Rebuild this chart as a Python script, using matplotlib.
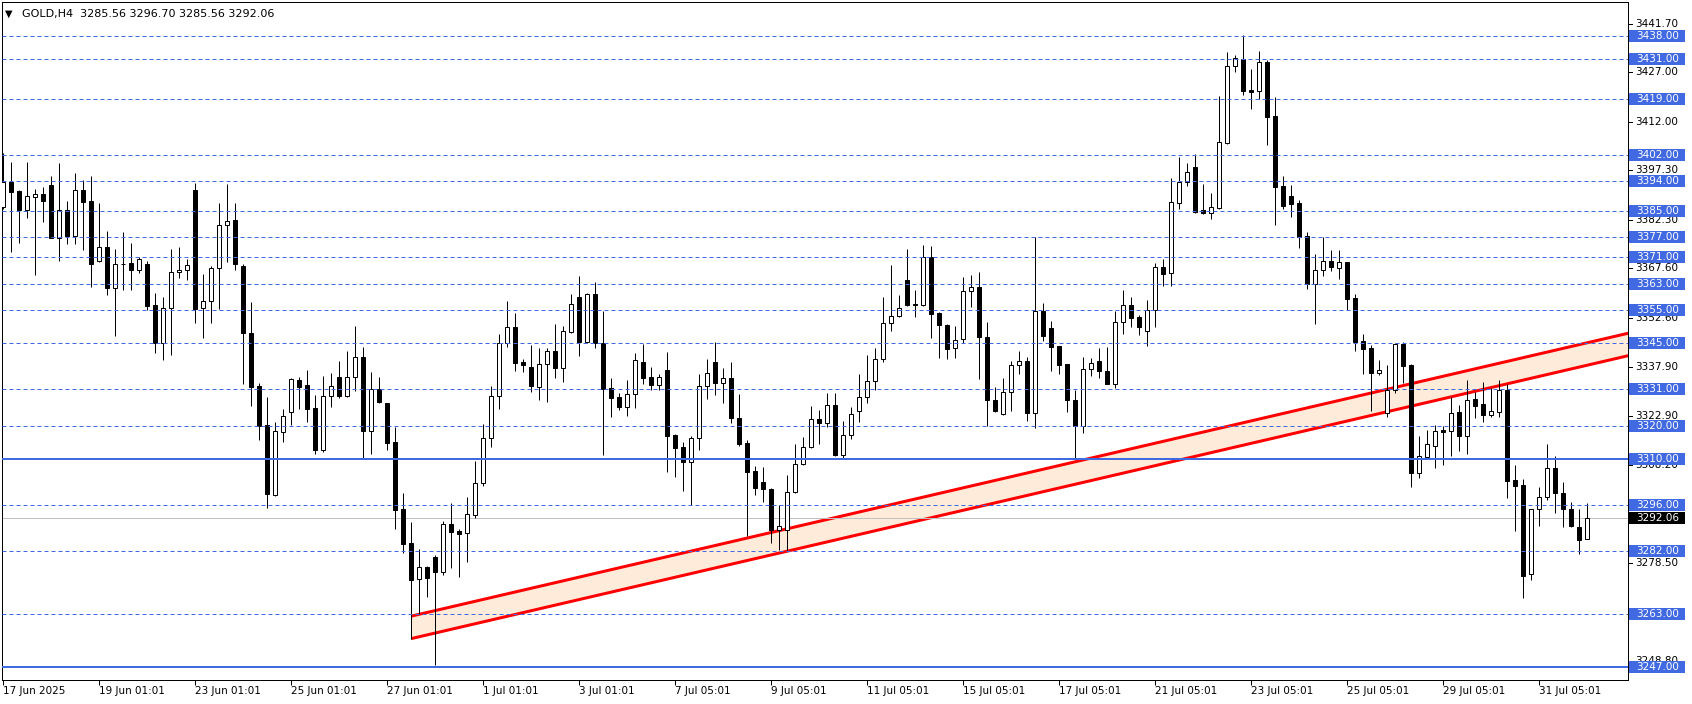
import matplotlib
matplotlib.use("Agg")
import matplotlib.pyplot as plt
import matplotlib.transforms as mtransforms
from matplotlib.patches import Rectangle

# ---------------- #
# -- DATA (H4) -- #
# ---------------- #

opens = [3386.1, 3393.7, 3391.1, 3385.4, 3389.2, 3390.2, 3392.9, 3376.9, 3385.2, 3377.5,
         3391.3, 3388.0, 3370.0, 3374.0, 3361.8, 3369.1, 3369.3, 3367.2, 3368.9, 3356.5,
         3344.9, 3355.5, 3366.4, 3367.0, 3391.3, 3355.5, 3357.7, 3367.7, 3380.7, 3382.2,
         3368.3, 3348.0, 3332.0, 3320.2, 3299.1, 3318.2, 3324.0, 3333.8, 3332.3, 3325.3,
         3312.7, 3328.9, 3334.7, 3329.1, 3334.6, 3340.7, 3318.5, 3331.0, 3326.8, 3315.0,
         3294.8, 3284.4, 3273.5, 3277.1, 3280.3, 3275.8, 3290.1, 3288.2, 3287.4, 3292.9,
         3302.5, 3316.2, 3329.0, 3345.1, 3349.8, 3339.3, 3337.7, 3331.8, 3338.6, 3342.6,
         3337.5, 3348.4, 3358.9, 3345.4, 3359.9, 3344.9, 3331.3, 3328.8, 3325.7, 3329.5,
         3339.2, 3334.6, 3332.4, 3336.9, 3317.2, 3313.4, 3309.1, 3316.2, 3332.0, 3339.2,
         3332.8, 3334.3, 3322.2, 3314.7, 3306.4, 3302.9, 3300.8, 3288.4, 3288.4, 3299.8,
         3308.3, 3313.6, 3321.9, 3320.9, 3326.2, 3311.2, 3317.1, 3324.5, 3328.6, 3333.4,
         3340.1, 3351.0, 3353.1, 3364.1, 3356.8, 3356.5, 3371.0, 3354.0, 3350.5, 3343.4,
         3346.1, 3360.7, 3361.9, 3346.7, 3327.8, 3323.4, 3330.1, 3338.3, 3339.5, 3323.9,
         3354.7, 3349.5, 3344.0, 3338.6, 3327.7, 3319.9, 3337.2, 3339.5, 3336.5, 3332.7,
         3351.3, 3356.4, 3352.9, 3348.6, 3354.9, 3367.9, 3366.3, 3387.3, 3393.7, 3398.3,
         3385.2, 3384.3, 3386.0, 3405.7, 3428.8, 3430.9, 3421.6, 3421.4, 3430.2, 3413.8,
         3392.6, 3389.5, 3387.4, 3377.4, 3362.9, 3367.2, 3369.8, 3367.8, 3369.5, 3358.6,
         3345.5, 3343.4, 3336.0, 3323.7, 3330.8, 3344.6, 3338.4, 3305.7, 3310.6, 3313.9,
         3318.6, 3318.5, 3324.0, 3317.0, 3328.1, 3326.5, 3323.3, 3324.2, 3330.8, 3303.5,
         3302.0, 3275.0, 3294.7, 3298.3, 3307.1, 3299.5, 3294.7, 3289.2, 3285.56]

highs = [3402.5, 3399.7, 3391.4, 3399.7, 3391.6, 3392.2, 3395.6, 3399.4, 3388.0, 3396.4,
         3394.4, 3395.6, 3387.4, 3378.9, 3373.5, 3378.5, 3375.3, 3371.0, 3369.9, 3360.1,
         3359.0, 3373.5, 3374.2, 3370.5, 3393.6, 3365.9, 3368.3, 3387.4, 3393.3, 3387.4,
         3368.9, 3357.4, 3332.8, 3328.7, 3321.1, 3324.9, 3334.3, 3334.8, 3336.9, 3329.3,
         3335.0, 3335.9, 3339.6, 3342.6, 3350.2, 3343.7, 3336.2, 3334.6, 3326.9, 3319.7,
         3299.5, 3290.8, 3282.5, 3277.5, 3280.8, 3291.2, 3296.5, 3288.8, 3298.3, 3309.3,
         3320.5, 3332.0, 3347.8, 3357.7, 3354.0, 3340.1, 3344.3, 3343.4, 3343.6, 3350.8,
         3350.2, 3359.9, 3365.3, 3360.1, 3363.5, 3354.8, 3334.3, 3329.8, 3333.8, 3341.9,
         3344.7, 3337.7, 3335.6, 3342.2, 3317.4, 3315.0, 3316.9, 3335.5, 3340.2, 3345.2,
         3337.5, 3339.3, 3329.6, 3315.6, 3307.8, 3307.4, 3301.0, 3295.9, 3305.0, 3314.4,
         3316.6, 3325.9, 3324.7, 3329.8, 3329.8, 3321.3, 3325.6, 3335.6, 3341.4, 3343.4,
         3359.0, 3368.6, 3359.6, 3373.4, 3361.1, 3374.7, 3374.3, 3354.4, 3350.8, 3350.2,
         3364.9, 3365.5, 3366.4, 3351.5, 3331.7, 3334.3, 3339.6, 3342.6, 3340.8, 3377.1,
         3357.1, 3351.7, 3344.2, 3338.8, 3330.8, 3340.8, 3340.5, 3343.4, 3343.7, 3354.7,
         3361.1, 3358.9, 3353.4, 3358.0, 3369.2, 3370.5, 3395.0, 3401.4, 3399.4, 3402.3,
         3393.2, 3390.5, 3419.8, 3433.2, 3432.2, 3438.3, 3428.0, 3433.5, 3430.6, 3419.5,
         3395.6, 3392.9, 3388.3, 3378.6, 3371.9, 3377.1, 3373.2, 3373.2, 3369.6, 3359.9,
         3347.8, 3344.3, 3339.9, 3338.4, 3345.0, 3345.3, 3338.6, 3316.9, 3318.7, 3320.2,
         3319.9, 3328.8, 3326.3, 3333.8, 3330.3, 3333.2, 3331.5, 3333.8, 3332.5, 3308.1,
         3303.8, 3294.9, 3301.4, 3314.4, 3310.8, 3302.9, 3296.9, 3294.8, 3296.70]

lows = [3385.6, 3372.7, 3375.4, 3383.0, 3365.7, 3381.8, 3376.7, 3370.0, 3375.1, 3375.1,
        3373.2, 3362.1, 3369.6, 3359.6, 3347.1, 3361.1, 3361.1, 3366.1, 3355.0, 3341.9,
        3339.9, 3341.4, 3364.8, 3364.1, 3351.2, 3346.6, 3351.2, 3355.3, 3369.5, 3367.0,
        3332.5, 3326.0, 3315.6, 3295.1, 3298.7, 3315.1, 3320.2, 3325.0, 3321.2, 3311.5,
        3312.1, 3325.7, 3328.5, 3328.8, 3330.6, 3310.1, 3311.5, 3327.0, 3312.6, 3288.8,
        3281.5, 3255.4, 3262.9, 3268.0, 3247.5, 3274.8, 3277.0, 3274.3, 3278.8, 3292.1,
        3301.7, 3313.6, 3324.9, 3343.9, 3336.6, 3336.3, 3330.3, 3327.8, 3327.2, 3334.5,
        3333.3, 3348.1, 3341.1, 3345.1, 3343.4, 3311.1, 3322.7, 3324.7, 3322.9, 3325.4,
        3332.5, 3330.8, 3330.8, 3306.1, 3304.5, 3300.3, 3296.0, 3312.6, 3328.0, 3329.3,
        3326.8, 3320.7, 3313.8, 3286.6, 3299.0, 3296.8, 3284.4, 3282.3, 3282.3, 3299.5,
        3308.0, 3313.3, 3314.3, 3319.5, 3310.9, 3310.3, 3316.0, 3321.2, 3326.8, 3330.8,
        3339.4, 3348.8, 3352.9, 3356.2, 3353.0, 3356.2, 3346.6, 3340.6, 3340.3, 3340.6,
        3344.9, 3356.0, 3334.0, 3319.9, 3324.2, 3323.2, 3324.5, 3335.5, 3321.5, 3319.2,
        3345.7, 3336.6, 3335.5, 3324.2, 3309.8, 3317.9, 3335.0, 3334.5, 3332.5, 3331.3,
        3347.7, 3350.0, 3347.4, 3344.2, 3350.0, 3362.4, 3362.4, 3385.7, 3392.7, 3384.5,
        3384.1, 3382.6, 3385.7, 3405.2, 3427.2, 3420.1, 3415.9, 3418.8, 3405.0, 3380.8,
        3385.6, 3383.3, 3373.7, 3361.5, 3350.8, 3365.3, 3366.8, 3364.4, 3354.9, 3342.6,
        3335.6, 3324.4, 3335.3, 3322.7, 3330.0, 3332.8, 3301.5, 3304.2, 3310.1, 3307.3,
        3308.1, 3310.9, 3312.3, 3311.5, 3322.2, 3321.2, 3322.7, 3322.7, 3298.2, 3288.2,
        3267.9, 3273.3, 3289.7, 3297.5, 3293.4, 3289.2, 3289.4, 3281.0, 3285.56]

closes = [3393.9, 3390.8, 3385.3, 3389.5, 3390.1, 3388.1, 3376.9, 3385.2, 3377.5, 3391.3,
          3387.8, 3369.0, 3374.0, 3361.8, 3368.9, 3368.8, 3367.2, 3370.5, 3356.3, 3344.9,
          3355.5, 3366.4, 3367.0, 3368.6, 3355.3, 3357.7, 3367.7, 3380.7, 3382.1, 3368.9,
          3348.0, 3331.8, 3320.0, 3299.3, 3318.4, 3322.8, 3334.1, 3331.8, 3325.1, 3312.7,
          3329.0, 3332.0, 3329.1, 3334.6, 3340.7, 3318.5, 3331.0, 3327.2, 3314.8, 3294.4,
          3284.2, 3273.3, 3277.1, 3273.9, 3275.8, 3290.1, 3287.9, 3287.2, 3293.1, 3302.5,
          3316.2, 3329.0, 3345.1, 3349.8, 3339.1, 3338.5, 3332.0, 3338.6, 3342.5, 3337.5,
          3348.7, 3356.7, 3345.4, 3359.9, 3344.9, 3331.0, 3328.5, 3325.7, 3329.5, 3339.9,
          3334.5, 3332.4, 3334.6, 3317.0, 3313.3, 3309.1, 3316.2, 3332.0, 3335.9, 3333.0,
          3334.3, 3322.2, 3314.5, 3306.0, 3301.2, 3300.7, 3288.4, 3289.5, 3299.8, 3308.3,
          3313.4, 3321.9, 3320.9, 3326.2, 3311.2, 3317.1, 3323.4, 3328.6, 3333.4, 3340.1,
          3351.0, 3353.1, 3355.5, 3356.5, 3356.6, 3371.0, 3353.7, 3350.4, 3343.1, 3346.0,
          3360.7, 3361.9, 3346.7, 3327.7, 3324.5, 3330.1, 3338.3, 3339.5, 3323.9, 3354.7,
          3347.2, 3343.9, 3338.5, 3327.7, 3319.9, 3337.2, 3338.9, 3336.6, 3332.7, 3351.3,
          3356.4, 3352.7, 3349.8, 3354.9, 3367.9, 3365.9, 3387.6, 3393.7, 3396.7, 3384.8,
          3384.3, 3386.1, 3405.8, 3428.8, 3431.2, 3421.4, 3421.1, 3430.0, 3413.6, 3392.4,
          3386.6, 3387.2, 3377.1, 3362.9, 3367.0, 3369.8, 3367.9, 3369.5, 3358.3, 3345.3,
          3343.3, 3336.0, 3336.8, 3330.8, 3344.6, 3338.2, 3305.7, 3310.7, 3314.4, 3318.3,
          3318.2, 3323.7, 3317.0, 3327.7, 3326.0, 3323.2, 3324.3, 3330.8, 3303.3, 3301.8,
          3274.6, 3294.7, 3298.3, 3307.1, 3299.5, 3294.7, 3289.6, 3285.4, 3292.06]

tick_bars = [0, 12, 24, 36, 48, 60, 72, 84, 96, 108, 120, 132, 144, 156, 168, 180, 192]
tick_labels = ["17 Jun 2025", "19 Jun 01:01", "23 Jun 01:01", "25 Jun 01:01",
               "27 Jun 01:01", "1 Jul 01:01", "3 Jul 01:01", "7 Jul 05:01",
               "9 Jul 05:01", "11 Jul 05:01", "15 Jul 05:01", "17 Jul 05:01",
               "21 Jul 05:01", "23 Jul 05:01", "25 Jul 05:01", "29 Jul 05:01",
               "31 Jul 05:01"]

dashed_levels = [3438, 3431, 3419, 3402, 3394, 3385, 3377, 3371, 3363, 3355,
                 3345, 3331, 3320, 3296, 3282, 3263]
solid_levels = [3310, 3247]
# scale marks; labels fully hidden under level boxes are not written
price_ticks = [3441.70, 3427.00, 3412.00, 3397.30, 3382.30, 3367.60, 3352.60,
               3337.90, 3322.90, 3308.20, 3293.50, 3278.50, 3263.80, 3248.80]
hidden_ticks = [3293.50, 3263.80]
last_price = 3292.06

# channel anchors (bar index, price)
channel_bars = [51, 198]
channel_upper = [3262.3, 3345.1]
channel_lower = [3255.5, 3338.3]

title = "GOLD,H4  3285.56 3296.70 3285.56 3292.06"

# --------------- #
# -- STYLE     -- #
# --------------- #

W, H = 1692, 704
BLUE = "#4169E1"
PX = 72.0 / 100.0   # points per pixel at dpi 100

fig = plt.figure(figsize=(W / 100, H / 100), dpi=100)
ax = fig.add_axes([2 / W, 24 / H, 1626 / W, 678 / H])
ax.set_xlim(-0.16, 203.09)
ax.set_ylim(3242.96, 3448.3)

# channel (drawn as background)
slope_u = (channel_upper[1] - channel_upper[0]) / (channel_bars[1] - channel_bars[0])
slope_l = (channel_lower[1] - channel_lower[0]) / (channel_bars[1] - channel_bars[0])
x_end = 204
cx = [channel_bars[0], x_end]
cu = [channel_upper[0], channel_upper[0] + slope_u * (x_end - channel_bars[0])]
cl = [channel_lower[0], channel_lower[0] + slope_l * (x_end - channel_bars[0])]
ax.fill_between(cx, cl, cu, color="#FFEBDA", zorder=1, lw=0)
ax.plot(cx, cu, color="#FF0000", lw=3 * PX, zorder=2, solid_capstyle="butt")
ax.plot(cx, cl, color="#FF0000", lw=3 * PX, zorder=2, solid_capstyle="butt")

# candles
xs = list(range(len(opens)))
ax.vlines(xs, lows, highs, color="black", lw=1 * PX, zorder=3)
for i in xs:
    o, c = opens[i], closes[i]
    bottom = min(o, c)
    height = max(abs(c - o), 0.02)
    face = "black" if c < o else "white"
    ax.add_patch(Rectangle((i - 0.25, bottom), 0.5, height, facecolor=face,
                           edgecolor="black", lw=1 * PX, zorder=4))

# horizontal levels
for lv in dashed_levels:
    ax.axhline(lv, color=BLUE, lw=1 * PX, linestyle=(0, (4, 3)), zorder=5)
for lv in solid_levels:
    ax.axhline(lv, color=BLUE, lw=2 * PX, zorder=5)
ax.axhline(last_price, color="#C0C0C0", lw=1 * PX, zorder=2.5)

# axes look
for s in ax.spines.values():
    s.set_linewidth(1 * PX)
    s.set_color("black")
ax.set_yticks([])
ax.set_xticks(tick_bars)
ax.set_xticklabels(tick_labels, ha="left", fontsize=7.5)
ax.tick_params(axis="x", direction="out", length=5 * PX, width=1 * PX, pad=1)

# right price scale
trans = mtransforms.blended_transform_factory(fig.transFigure, ax.transData)
px_per_unit = 678 / (3448.3 - 3242.96)
box_h = 12 / px_per_unit
for p in price_ticks:
    ax.plot([1628 / W, 1632 / W], [p, p], color="black", lw=1 * PX,
            transform=trans, clip_on=False)
    if p in hidden_ticks:
        continue
    ax.text(1635 / W, p, f"{p:.2f}", transform=trans, fontsize=7.5,
            va="center", ha="left", color="black", clip_on=False)

for lv in dashed_levels + solid_levels:
    ax.add_patch(Rectangle((1629 / W, lv - box_h / 2), 56 / W, box_h,
                           transform=trans, facecolor=BLUE, edgecolor="none",
                           clip_on=False, zorder=6))
    ax.text(1636 / W, lv, f"{lv:.2f}", transform=trans, fontsize=7.5,
            va="center", ha="left", color="white", clip_on=False, zorder=7)

ax.add_patch(Rectangle((1629 / W, last_price - box_h / 2), 56 / W, box_h,
                       transform=trans, facecolor="black", edgecolor="none",
                       clip_on=False, zorder=6))
ax.text(1636 / W, last_price, f"{last_price:.2f}", transform=trans, fontsize=7.5,
        va="center", ha="left", color="white", clip_on=False, zorder=7)

# title
fig.text(5 / W, 1 - 13.5 / H, "\u25BC", fontsize=7, va="center", ha="left")
fig.text(22 / W, 1 - 13.5 / H, title, fontsize=8, va="center", ha="left")

fig.savefig("out.png", dpi=100)
